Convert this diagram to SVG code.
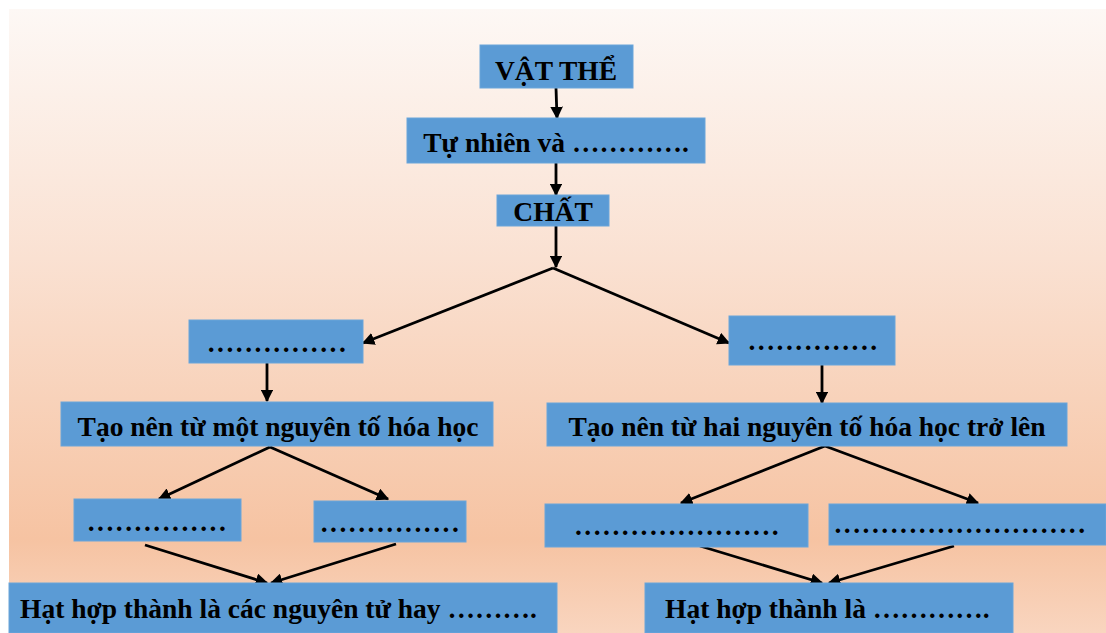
<svg xmlns="http://www.w3.org/2000/svg" width="1106" height="633" viewBox="0 0 1106 633">
<defs>
<linearGradient id="bg" x1="0" y1="0" x2="0" y2="1">
<stop offset="0" stop-color="#fdf8f5"/>
<stop offset="0.4" stop-color="#fae1d2"/>
<stop offset="0.85" stop-color="#f6c3a2"/>
<stop offset="1" stop-color="#f9d5bf"/>
</linearGradient>
<marker id="ah" viewBox="0 0 10 10" refX="9" refY="5" markerWidth="4.5" markerHeight="4.5" orient="auto" markerUnits="strokeWidth">
<path d="M0,0 L10,5 L0,10 z" fill="#000"/>
</marker>
</defs>
<style>
.box{fill:#5b9bd5;stroke:#6aa5da;stroke-width:1}
.t{font-family:"Liberation Serif","Times New Roman",serif;font-weight:bold;font-size:27.5px;fill:#000}
.c{text-anchor:middle}
.d{letter-spacing:2.5px}
.ln{stroke:#000;stroke-width:2.8;fill:none;marker-end:url(#ah)}
</style>
<rect x="9" y="9" width="1097" height="624" fill="url(#bg)"/>
<g id="connectors">
<line class="ln" x1="556" y1="88" x2="557" y2="118"/>
<line class="ln" x1="556" y1="163" x2="556" y2="195"/>
<line class="ln" x1="556" y1="226" x2="556" y2="267"/>
<line class="ln" x1="553" y1="268" x2="363" y2="343"/>
<line class="ln" x1="553" y1="268" x2="729" y2="343"/>
<line class="ln" x1="267" y1="363" x2="267" y2="401"/>
<line class="ln" x1="822" y1="365" x2="822" y2="403"/>
<line class="ln" x1="270" y1="447" x2="159" y2="499"/>
<line class="ln" x1="270" y1="447" x2="388" y2="499"/>
<line class="ln" x1="145" y1="545" x2="267" y2="583"/>
<line class="ln" x1="396" y1="544" x2="271" y2="583"/>
<line class="ln" x1="825" y1="446" x2="681" y2="503"/>
<line class="ln" x1="825" y1="446" x2="978" y2="503"/>
<line class="ln" x1="700" y1="546" x2="822" y2="583"/>
<line class="ln" x1="954" y1="546" x2="829" y2="583"/>
</g>
<g id="vatthe"><rect class="box" x="480" y="45" width="153" height="43"/><text class="t c" x="556" y="80">VẬT THỂ</text></g>
<g id="tunhien"><rect class="box" x="407" y="118" width="298" height="45"/><text class="t c" x="556" y="152">Tự nhiên và ………….</text></g>
<g id="chat"><rect class="box" x="497" y="195" width="112" height="31"/><text class="t c" x="553" y="221">CHẤT</text></g>
<g id="left1"><rect class="box" x="189" y="320" width="174" height="43"/><text class="t c d" x="278" y="352">...............</text></g>
<g id="right1"><rect class="box" x="729" y="316" width="166" height="49"/><text class="t c d" x="814" y="350">..............</text></g>
<g id="motnguyento"><rect class="box" x="61" y="402" width="432" height="44"/><text class="t c" x="278" y="436">Tạo nên từ một nguyên tố hóa học</text></g>
<g id="hainguyento"><rect class="box" x="547" y="403" width="520" height="43"/><text class="t c" x="807" y="436">Tạo nên từ hai nguyên tố hóa học trở lên</text></g>
<g id="left2a"><rect class="box" x="74" y="499" width="167" height="42"/><text class="t c d" x="158" y="531">...............</text></g>
<g id="left2b"><rect class="box" x="314" y="501" width="152" height="41"/><text class="t c d" x="391" y="532">...............</text></g>
<g id="right2a"><rect class="box" x="545" y="504" width="263" height="43"/><text class="t c d" x="678" y="535">......................</text></g>
<g id="right2b"><rect class="box" x="829" y="504" width="277" height="41"/><text class="t c d" x="961" y="533">...........................</text></g>
<g id="bottomleft"><rect class="box" x="9" y="583" width="548" height="50"/><text class="t" x="20" y="618">Hạt hợp thành là các nguyên tử hay ……….</text></g>
<g id="bottomright"><rect class="box" x="645" y="583" width="368" height="50"/><text class="t" x="665" y="618">Hạt hợp thành là ………….</text></g>
</svg>
